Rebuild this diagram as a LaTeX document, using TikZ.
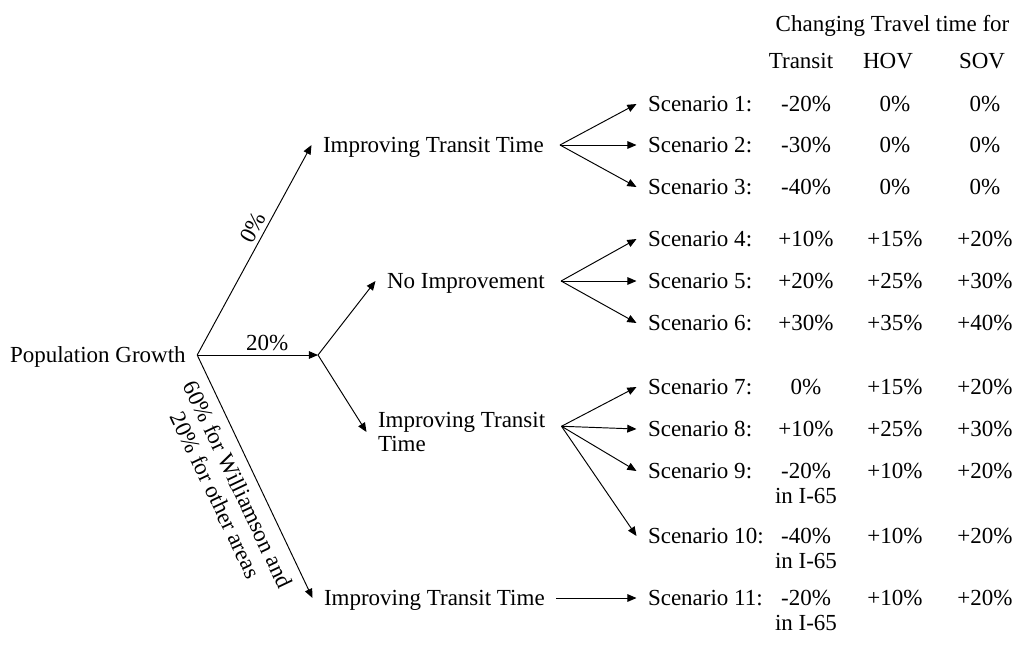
\documentclass[tikz,border=0pt]{standalone}
\usepackage{fontspec}
\setmainfont{Liberation Serif}
\usetikzlibrary{arrows.meta}

\begin{document}
\begin{tikzpicture}[x=0.5217pt, y=-0.5217pt, line width=0.5pt,
  font=\fontsize{12}{13}\selectfont,
  >={Triangle[length=4.8pt,width=4pt]},
  lbl/.style={inner sep=0pt, outer xsep=6pt, text height=8pt, text depth=0pt},
  lbltwo/.style={inner sep=0pt, outer xsep=6pt, align=left},
  val/.style={inner sep=0pt, text height=8pt, text depth=0pt},
  valtwo/.style={inner sep=0pt, align=center, anchor=north},
  pct/.style={inner sep=2pt, sloped}]
\useasboundingbox (0,0) rectangle (1016,645);

% 表の見出し
\node[val] (hd) at (892.5,24) {Changing Travel time for};
\node[val] (ht) at (801,61) {Transit};
\node[val] (hh) at (888,61) {HOV};
\node[val] (hs) at (982,61) {SOV};

\node[lbl,anchor=west] (pop) at (-1.5,355) {Population Growth};
\node[lbl,anchor=west] (t1) at (311.5,145) {Improving Transit Time};
\node[lbl,anchor=west] (ni) at (375.5,281) {No Improvement};
\node[lbltwo,anchor=west] (t2) at (366.5,432) {Improving Transit\\Time};
\node[lbl,anchor=west] (t3) at (312.5,598) {Improving Transit Time};
\coordinate (c) at (318,355);

\node[lbl,anchor=west] (s1) at (636.5,104) {Scenario 1:};
\node[lbl,anchor=west] (s2) at (636.5,145) {Scenario 2:};
\node[lbl,anchor=west] (s3) at (636.5,187) {Scenario 3:};
\node[lbl,anchor=west] (s4) at (636.5,239) {Scenario 4:};
\node[lbl,anchor=west] (s5) at (636.5,281) {Scenario 5:};
\node[lbl,anchor=west] (s6) at (636.5,323) {Scenario 6:};
\node[lbl,anchor=west] (s7) at (636.5,387) {Scenario 7:};
\node[lbl,anchor=west] (s8) at (636.5,429) {Scenario 8:};
\node[lbl,anchor=west] (s9) at (636.5,471) {Scenario 9:};
\node[lbl,anchor=west] (s10) at (636.5,536) {Scenario 10:};
\node[lbl,anchor=west] (s11) at (636.5,598) {Scenario 11:};

\node[val] (v1a) at (806,104) {-20\%};
\node[val] (v1b) at (895,104) {0\%};
\node[val] (v1c) at (985,104) {0\%};
\node[val] (v2a) at (806,145) {-30\%};
\node[val] (v2b) at (895,145) {0\%};
\node[val] (v2c) at (985,145) {0\%};
\node[val] (v3a) at (806,187) {-40\%};
\node[val] (v3b) at (895,187) {0\%};
\node[val] (v3c) at (985,187) {0\%};
\node[val] (v4a) at (806,239) {+10\%};
\node[val] (v4b) at (895,239) {+15\%};
\node[val] (v4c) at (985,239) {+20\%};
\node[val] (v5a) at (806,281) {+20\%};
\node[val] (v5b) at (895,281) {+25\%};
\node[val] (v5c) at (985,281) {+30\%};
\node[val] (v6a) at (806,323) {+30\%};
\node[val] (v6b) at (895,323) {+35\%};
\node[val] (v6c) at (985,323) {+40\%};
\node[val] (v7a) at (806,387) {0\%};
\node[val] (v7b) at (895,387) {+15\%};
\node[val] (v7c) at (985,387) {+20\%};
\node[val] (v8a) at (806,429) {+10\%};
\node[val] (v8b) at (895,429) {+25\%};
\node[val] (v8c) at (985,429) {+30\%};
\node[valtwo] (v9a) at (806,463) {-20\%\\in I-65};
\node[val] (v9b) at (895,471) {+10\%};
\node[val] (v9c) at (985,471) {+20\%};
\node[valtwo] (v10a) at (806,528) {-40\%\\in I-65};
\node[val] (v10b) at (895,536) {+10\%};
\node[val] (v10c) at (985,536) {+20\%};
\node[valtwo] (v11a) at (806,590) {-20\%\\in I-65};
\node[val] (v11b) at (895,598) {+10\%};
\node[val] (v11c) at (985,598) {+20\%};

\draw[->] (pop.east) -- node[pct,above,pos=0.58] {0\%} (t1.west);
\draw[->] (pop.east) -- node[pct,above,pos=0.58] {20\%} (c);
\draw[->] (pop.east) -- node[pct,below=3pt,align=center,pos=0.5] {60\% for Williamson and\\20\% for other areas} (t3.west);
\draw[->] (c) -- (ni.west);
\draw[->] (c) -- (t2.west);

\draw[->] ([xshift=2.5pt]t1.east) -- (s1.west);
\draw[->] ([xshift=2.5pt]t1.east) -- (s2.west);
\draw[->] ([xshift=2.5pt]t1.east) -- (s3.west);
\draw[->] ([xshift=2.5pt]ni.east) -- (s4.west);
\draw[->] ([xshift=2.5pt]ni.east) -- (s5.west);
\draw[->] ([xshift=2.5pt]ni.east) -- (s6.west);
\draw[->] ([xshift=2.5pt,yshift=3pt]t2.east) -- (s7.west);
\draw[->] ([xshift=2.5pt,yshift=3pt]t2.east) -- (s8.west);
\draw[->] ([xshift=2.5pt,yshift=3pt]t2.east) -- (s9.west);
\draw[->] ([xshift=2.5pt,yshift=3pt]t2.east) -- (s10.west);
\draw[->] (t3.east) -- (s11.west);
\end{tikzpicture}
\end{document}
